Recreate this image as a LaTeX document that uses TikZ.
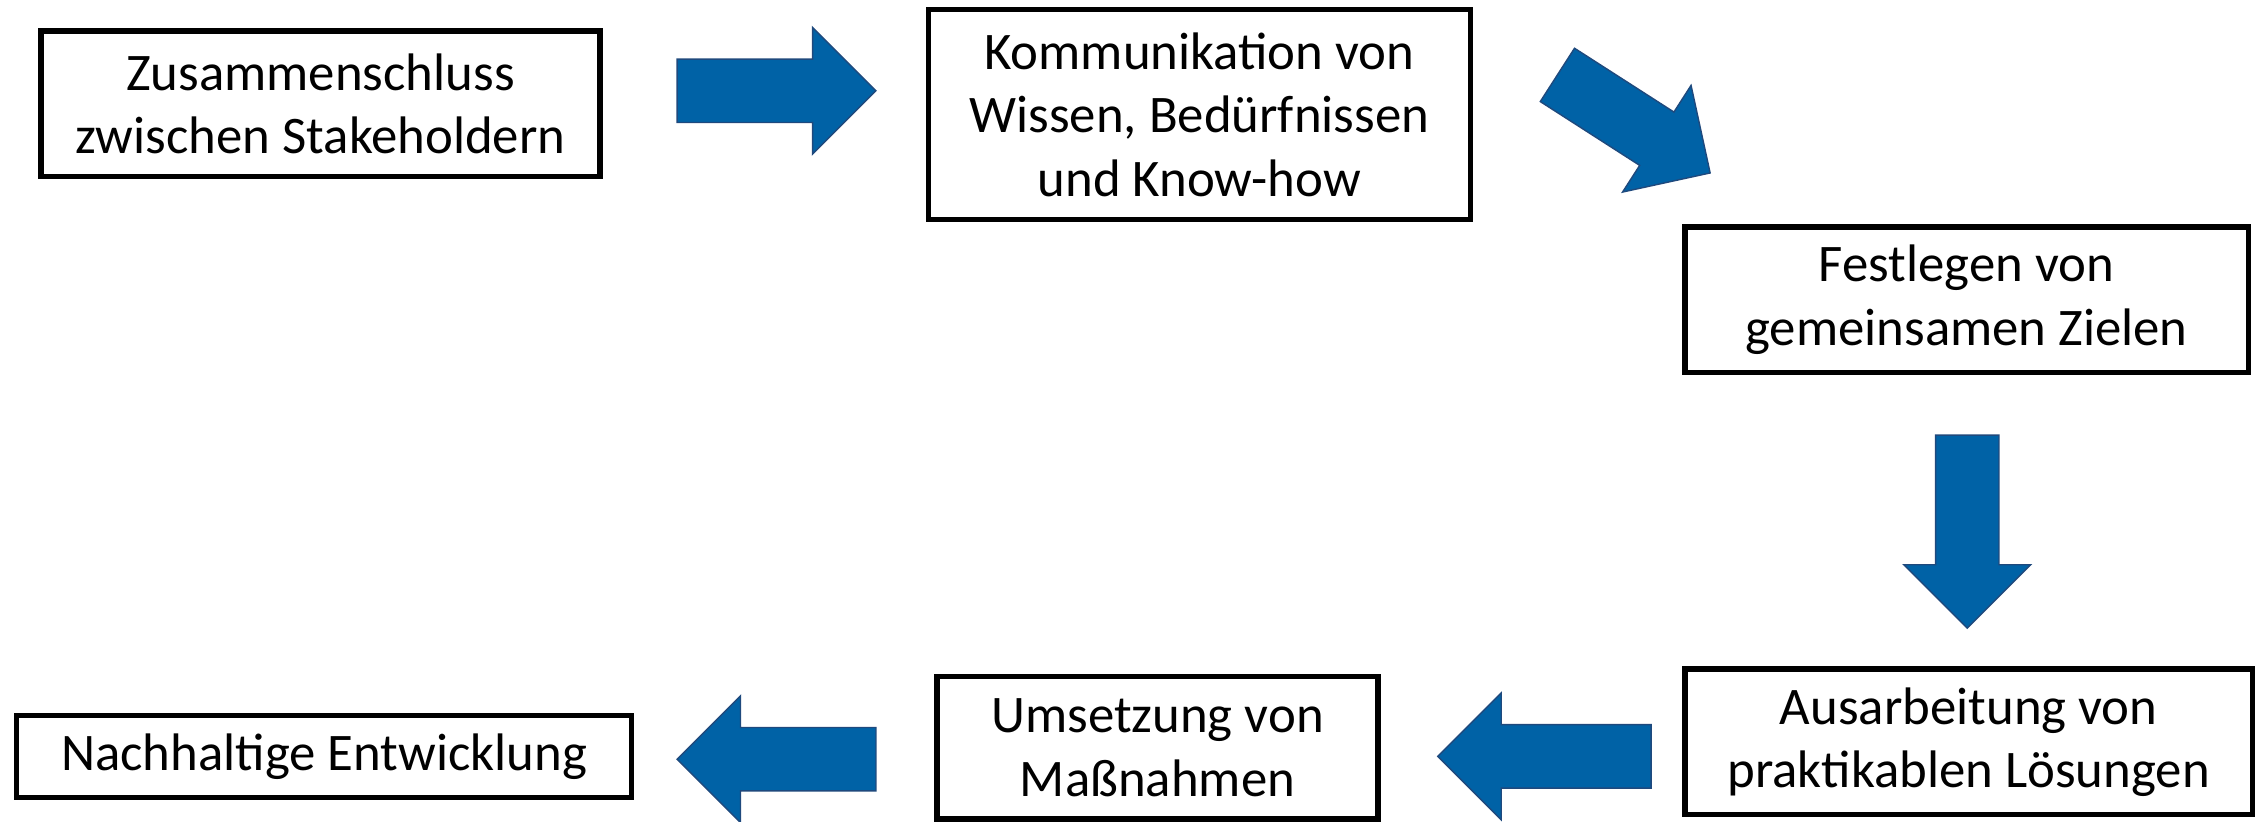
\documentclass[tikz,border=0pt]{standalone}
\usepackage{fontspec}
\setmainfont{Carlito}
\definecolor{arrowfill}{RGB}{0,98,166}
\definecolor{arrowline}{RGB}{31,73,125}
\tikzset{
  stepbox/.style={draw=black, line width=2.7pt, fill=white, align=center, inner sep=0pt,
    font=\fontsize{26.4pt}{31.7pt}\selectfont},
  blockarrow/.style={fill=arrowfill, draw=arrowline, line width=0.7pt, line join=miter},
}
\newcommand\blkarrow[4]{%
  \begin{scope}[shift={(#1,#2)},rotate=#3]
    \filldraw[blockarrow] (0,-22) -- ({#4-44},-22) -- ({#4-44},-44) -- (#4,0)
      -- ({#4-44},44) -- ({#4-44},22) -- (0,22) -- cycle;
  \end{scope}}
\begin{document}
\begin{tikzpicture}[x=0.72035pt,y=-0.72035pt]
\useasboundingbox (0,0) rectangle (1568,569.9);
\node[stepbox, minimum width={388*0.72035pt}, minimum height={101*0.72035pt}] (b1) at (222.5,72) {Zusammenschluss\\zwischen Stakeholdern};
\node[stepbox, minimum width={376*0.72035pt}, minimum height={146*0.72035pt}] (b2) at (832.5,79.5) {Kommunikation von\\Wissen, Bedürfnissen\\und Know-how};
\node[stepbox, minimum width={391*0.72035pt}, minimum height={101*0.72035pt}] (b3) at (1365,208) {Festlegen von\\gemeinsamen Zielen};
\node[stepbox, minimum width={394*0.72035pt}, minimum height={101*0.72035pt}] (b4) at (1366.5,515) {Ausarbeitung von\\praktikablen Lösungen};
\node[stepbox, minimum width={306*0.72035pt}, minimum height={99*0.72035pt}] (b5) at (803.5,519) {Umsetzung von\\Maßnahmen};
\node[stepbox, minimum width={427*0.72035pt}, minimum height={57*0.72035pt}] (b6) at (225,525) {Nachhaltige Entwicklung};
\blkarrow{470}{63}{0}{138}
\blkarrow{1081}{52}{-32.7}{126}
\blkarrow{1365.5}{302}{-90}{134}
\blkarrow{1146}{525}{180}{148}
\blkarrow{608}{527}{180}{138}
\end{tikzpicture}
\end{document}
